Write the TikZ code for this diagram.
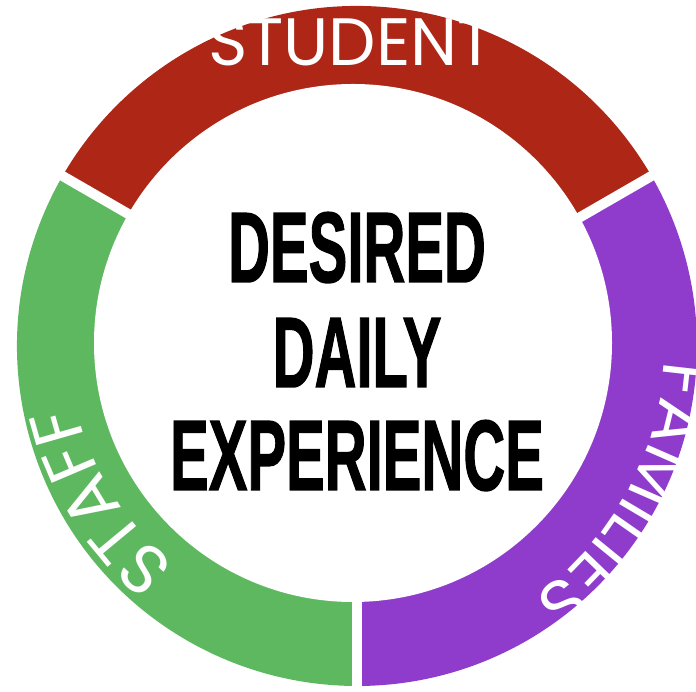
\documentclass[tikz,border=0pt]{standalone}
\usepackage{fontspec}
\usetikzlibrary{decorations.text}
\newfontfamily\ringfont{Poppins}
\newfontfamily\titlefont{Liberation Sans}[BoldFeatures={FakeBold=1.5}]
\definecolor{studentred}{HTML}{AD2616}
\definecolor{staffgreen}{HTML}{5DB85F}
\definecolor{familypurple}{HTML}{8F3BCC}
\tikzset{
  ring label/.style = {
    decorate,
    decoration = {text along path, text align=center, text color=white,
      text = {|\ringfont\fontsize{69}{69}\selectfont|#1}}
  },
  top label/.style = {
    font=\ringfont\fontsize{67}{67}\selectfont, text=white,
    anchor=base, inner sep=0pt
  },
  % Заголовок в центре
  title/.style = {
    font=\titlefont\bfseries\fontsize{100}{100}\selectfont,
    xscale=0.58, transform shape, anchor=base, inner sep=0pt
  },
  gap/.style = {draw=white, line width=10pt}
}
\begin{document}
\begin{tikzpicture}[x=1pt,y=1pt]
  \useasboundingbox (0,0) rectangle (696,692);
  \coordinate (O) at (357,346);
  \coordinate (C) at (353,349);

  \fill[studentred]   (O) -- ++(30:340)  arc[start angle=30, end angle=150,radius=340] -- cycle;
  \fill[staffgreen]   (O) -- ++(150:340) arc[start angle=150,end angle=270,radius=340] -- cycle;
  \fill[familypurple] (O) -- ++(270:340) arc[start angle=270,end angle=390,radius=340] -- cycle;
  \fill[white] (C) circle (259);
  \foreach \a in {30,150,270}
    \draw[gap] (O) -- ++(\a:360);

  \node[top label] (student) at (351,626) {STUDENT};
  \path[ring label=STAFF]    ([shift={(252:284)}]C) arc[start angle=252,end angle=172,radius=284];
  \path[ring label=FAMILIES] ([shift={(6:312)}]C)   arc[start angle=6,  end angle=-64,radius=312];

  \node[title] (desired)    at (357,410) {DESIRED};
  \node[title] (daily)      at (357,305) {DAILY};
  \node[title] (experience) at (357,202) {EXPERIENCE};
\end{tikzpicture}
\end{document}
